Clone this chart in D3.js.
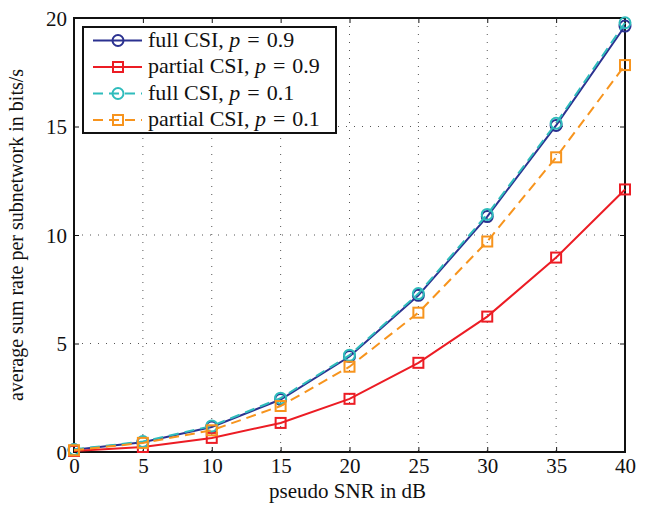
<!DOCTYPE html>
<html>
<head>
<meta charset="utf-8">
<script src="https://cdn.jsdelivr.net/npm/d3@7"></script>
<style>
  body { margin: 0; background: #fff; }
  svg { display: block; }
  svg text { font-family: 'Liberation Serif', 'Times New Roman', Times, serif !important; fill: #111; }
</style>
</head>
<body>
<svg id="chart" width="651" height="506"></svg>
<script>
const snr = [0, 5, 10, 15, 20, 25, 30, 35, 40];
const fullCSI_p09 = [0.10, 0.45, 1.15, 2.42, 4.40, 7.22, 10.85, 15.05, 19.63];
const partialCSI_p09 = [0.05, 0.23, 0.65, 1.34, 2.45, 4.11, 6.24, 8.96, 12.10];
const fullCSI_p01 = [0.12, 0.48, 1.20, 2.48, 4.46, 7.30, 10.95, 15.15, 19.78];
const partialCSI_p01 = [0.08, 0.42, 1.00, 2.12, 3.93, 6.42, 9.70, 13.58, 17.83];
const xTicks = [0, 5, 10, 15, 20, 25, 30, 35, 40];
const yTicks = [0, 5, 10, 15, 20];

const seriesList = [
  { name: "full CSI", p: "0.9", values: fullCSI_p09, color: "#2b3190", marker: "circle", dash: null },
  { name: "partial CSI", p: "0.9", values: partialCSI_p09, color: "#ec1c24", marker: "square", dash: null },
  { name: "full CSI", p: "0.1", values: fullCSI_p01, color: "#2fbcbc", marker: "circle", dash: "10,6" },
  { name: "partial CSI", p: "0.1", values: partialCSI_p01, color: "#f7941d", marker: "square", dash: "10,6" }
];

const svg = d3.select("#chart");
const L = 74, R = 625, T = 18, B = 452;
const x = d3.scaleLinear().domain([0, 40]).range([L, R]);
const y = d3.scaleLinear().domain([0, 20]).range([B, T]);

// grid
const grid = svg.append("g");
grid.selectAll("line.gx").data(xTicks.slice(1, -1)).enter().append("line")
  .attr("x1", d => x(d)).attr("x2", d => x(d)).attr("y1", T).attr("y2", B)
  .attr("stroke", "#555").attr("stroke-width", 1).attr("stroke-dasharray", "1,7");
grid.selectAll("line.gy").data(yTicks.slice(1, -1)).enter().append("line")
  .attr("x1", L).attr("x2", R).attr("y1", d => y(d)).attr("y2", d => y(d))
  .attr("stroke", "#555").attr("stroke-width", 1).attr("stroke-dasharray", "1,7");

// axes
const fs = 21;
const xAxis = d3.axisBottom(x).tickValues(xTicks).tickSize(-5).tickPadding(6).tickFormat(d3.format("d"));
const gx = svg.append("g").attr("transform", `translate(0,${B})`).call(xAxis);
const yAxis = d3.axisLeft(y).tickValues(yTicks).tickSize(-5).tickPadding(7).tickFormat(d3.format("d"));
const gy = svg.append("g").attr("transform", `translate(${L},0)`).call(yAxis);
const gxt = svg.append("g").attr("transform", `translate(0,${T})`).call(d3.axisTop(x).tickValues(xTicks).tickSize(-5).tickFormat(""));
const gyr = svg.append("g").attr("transform", `translate(${R},0)`).call(d3.axisRight(y).tickValues(yTicks).tickSize(-5).tickFormat(""));
[gx, gy, gxt, gyr].forEach(g => {
  g.select(".domain").remove();
  g.attr("font-family", null).attr("font-size", null);
  g.selectAll(".tick line").attr("stroke", "#111").attr("stroke-width", 1);
  g.selectAll("text").style("font-size", fs + "px").attr("fill", "#111");
});
gx.selectAll("text").attr("dy", "0.71em");
gy.selectAll("text").attr("dy", "0.35em");

svg.append("rect").attr("x", L).attr("y", T).attr("width", R - L).attr("height", B - T)
  .attr("fill", "none").attr("stroke", "#111").attr("stroke-width", 2);

// axis labels
svg.append("text").attr("x", (L + R) / 2 - 2).attr("y", 498).attr("text-anchor", "middle")
  .style("font-size", "21px").text("pseudo SNR in dB");
svg.append("text").attr("transform", `translate(23,${(T + B) / 2}) rotate(-90)`)
  .attr("text-anchor", "middle").style("font-size", "20px")
  .text("average sum rate per subnetwork in bits/s");

// series
const line = d3.line().x((d, i) => x(snr[i])).y(d => y(d));
function drawMarker(g, type, cx, cy, color) {
  if (type === "circle") {
    g.append("circle").attr("cx", cx).attr("cy", cy).attr("r", 5.5)
      .attr("fill", "none").attr("stroke", color).attr("stroke-width", 2);
  } else {
    g.append("rect").attr("x", cx - 5).attr("y", cy - 5).attr("width", 10).attr("height", 10)
      .attr("fill", "none").attr("stroke", color).attr("stroke-width", 2);
  }
}
seriesList.forEach(s => {
  const g = svg.append("g");
  g.append("path").datum(s.values).attr("d", line).attr("fill", "none")
    .attr("stroke", s.color).attr("stroke-width", 2)
    .attr("stroke-dasharray", s.dash);
  s.values.forEach((v, i) => drawMarker(g, s.marker, x(snr[i]), y(v), s.color));
});

// legend
const lg = svg.append("g");
lg.append("rect").attr("x", 83).attr("y", 27).attr("width", 253).attr("height", 106)
  .attr("fill", "#fff").attr("stroke", "#111").attr("stroke-width", 2);
seriesList.forEach((s, i) => {
  const cy = 40.5 + i * 26.5;
  lg.append("line").attr("x1", 93).attr("x2", 142).attr("y1", cy).attr("y2", cy)
    .attr("stroke", s.color).attr("stroke-width", 2).attr("stroke-dasharray", s.dash ? "10,6" : null);
  drawMarker(lg, s.marker, 118, cy, s.color);
  const t = lg.append("text").attr("x", 148).attr("y", cy + 6).style("font-size", "22px");
  t.append("tspan").text(s.name + ", ");
  t.append("tspan").attr("font-style", "italic").text("p");
  t.append("tspan").attr("dx", 7).text("=");
  t.append("tspan").attr("dx", 7).text(s.p);
});
</script>
</body>
</html>
